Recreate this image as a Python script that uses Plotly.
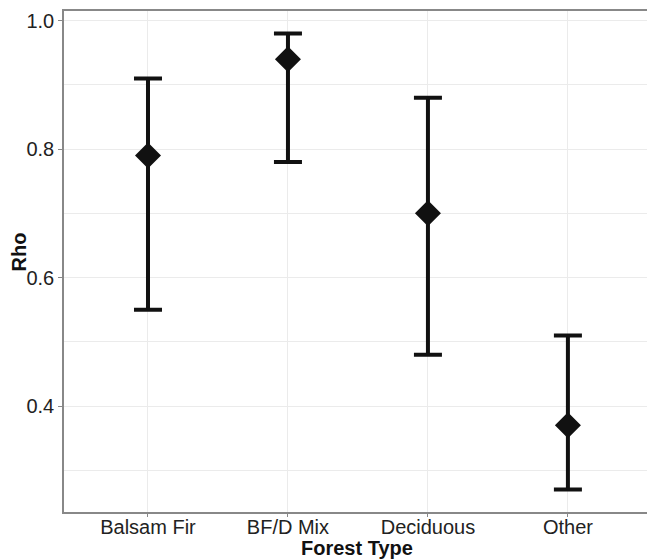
import plotly.graph_objects as go

categories = ["Balsam Fir", "BF/D Mix", "Deciduous", "Other"]
rho = [0.79, 0.94, 0.70, 0.37]
lower = [0.55, 0.78, 0.48, 0.27]
upper = [0.91, 0.98, 0.88, 0.51]

x_idx = list(range(len(categories)))
err_plus = [u - r for u, r in zip(upper, rho)]
err_minus = [r - l for r, l in zip(rho, lower)]

fig = go.Figure()
fig.add_trace(go.Scatter(
    x=x_idx, y=rho, mode="markers",
    marker=dict(symbol="diamond", size=20, color="#111111"),
    error_y=dict(type="data", symmetric=False, array=err_plus, arrayminus=err_minus,
                 color="#111111", thickness=4, width=14),
    showlegend=False,
))

L, R, T, B = 64, 0, 11, 48
W, H = 647, 560
pw = W - L - R
ph = H - T - B

grid = "#EBEBEB"
fig.update_layout(
    width=W, height=H,
    margin=dict(l=L, r=R, t=T, b=B),
    paper_bgcolor="white", plot_bgcolor="white",
    font=dict(family="Liberation Sans, Arial, sans-serif", size=20, color="#222222"),
    xaxis=dict(
        range=[-0.6, 3.565], tickvals=x_idx, ticktext=categories,
        showgrid=True, gridcolor=grid, gridwidth=1,
        showline=True, linecolor="#888888", linewidth=1.5, mirror=True,
        ticks="outside", ticklen=3, tickcolor="#888888",
        ticklabelstandoff=-7,
        zeroline=False,
    ),
    yaxis=dict(
        range=[0.2350, 1.0151], tickvals=[0.4, 0.6, 0.8, 1.0], ticktext=["0.4", "0.6", "0.8", "1.0"],
        showgrid=True, gridcolor=grid, gridwidth=1,
        minor=dict(tickvals=[0.3, 0.5, 0.7, 0.9], showgrid=True, gridcolor=grid, gridwidth=1, ticks=""),
        showline=True, linecolor="#888888", linewidth=1.5, mirror=False,
        ticks="outside", ticklen=4, tickcolor="#888888",
        zeroline=False,
    ),
    annotations=[
        dict(text="<b>Forest Type</b>", xref="paper", yref="paper",
             x=(357.5 - L) / pw, y=-(548 - (T + ph)) / ph,
             xanchor="center", yanchor="middle", showarrow=False,
             font=dict(size=20, color="#111111")),
        dict(text="<b>Rho</b>", xref="paper", yref="paper",
             x=-(L - 19) / pw, y=0.5 + 9 / ph, textangle=-90,
             xanchor="center", yanchor="middle", showarrow=False,
             font=dict(size=20, color="#111111")),
    ],
)

fig.write_html("out.html")
